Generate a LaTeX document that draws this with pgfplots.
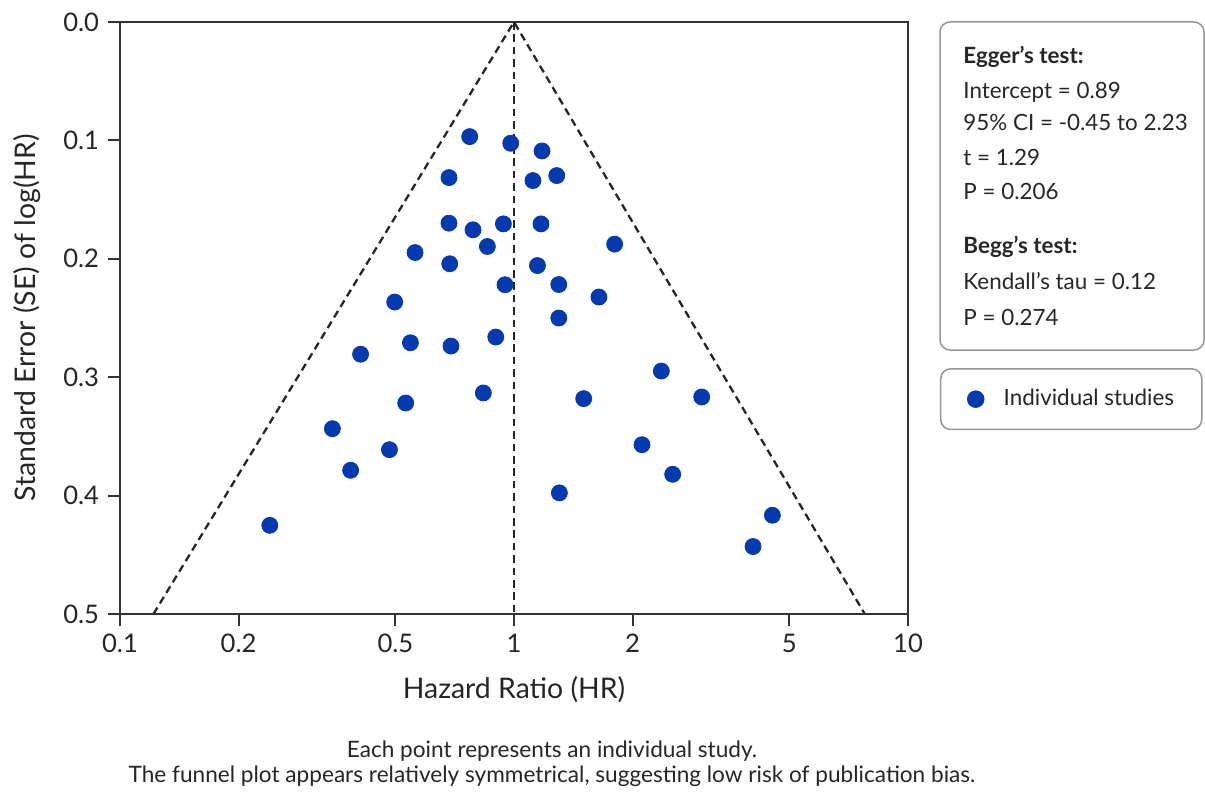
\documentclass[border=0pt]{standalone}
\usepackage{fontspec}
\setmainfont{Lato}
\usepackage{pgfplots}
\pgfplotsset{compat=1.18}
\definecolor{dotblue}{RGB}{4,58,176}
\definecolor{boxgray}{RGB}{150,150,150}
\pgfplotstableread{
hr se
0.772 0.0968
0.981 0.1024
1.178 0.1089
0.684 0.1314
1.117 0.1339
1.284 0.1297
0.684 0.1699
0.787 0.1755
0.940 0.1705
1.171 0.1705
0.856 0.1896
0.561 0.1947
1.801 0.1876
0.687 0.2042
1.147 0.2057
0.949 0.2219
1.299 0.2217
0.498 0.2365
1.643 0.2323
1.299 0.2500
0.408 0.2806
0.546 0.2709
0.692 0.2737
0.899 0.2661
2.366 0.2948
0.836 0.3133
1.503 0.3181
2.995 0.3167
0.531 0.3218
0.346 0.3435
0.483 0.3612
2.113 0.3570
0.385 0.3786
2.528 0.3820
1.304 0.3977
0.240 0.4251
4.527 0.4166
4.043 0.4430
}\studies
\begin{document}
\begin{tikzpicture}[x=1pt,y=1pt]
\path[use as bounding box] (0pt,0pt) rectangle (602.5pt,-396pt);
\begin{axis}[
  at={(60pt,-307pt)}, anchor=south west,
  scale only axis, width=394pt, height=296pt,
  xmode=log, xmin=0.1, xmax=10, ymin=0, ymax=0.5, y dir=reverse,
  xtick={0.1,0.2,0.5,1,2,5,10}, xticklabels={0.1,0.2,0.5,1,2,5,10},
  xminorticks=false,
  ytick={0,0.1,0.2,0.3,0.4,0.5}, yticklabels={0.0,0.1,0.2,0.3,0.4,0.5},
  tick pos=left, tick align=outside, major tick length=6pt,
  axis line style={line width=1pt, black!80},
  every tick/.style={black!80, line width=1pt},
  ticklabel style={font=\fontsize{12.8}{15}\selectfont, text=black!85},
  xticklabel style={yshift=-0.5pt},
  yticklabel style={xshift=-1pt},
  xlabel={Hazard Ratio (HR)},
  ylabel={Standard Error (SE) of log(HR)},
  xlabel style={at={(axis description cs:0.5,-0.128)}, anchor=center, font=\fontsize{14.2}{16}\selectfont, text=black!85},
  ylabel style={at={(axis description cs:-0.118,0.5)}, anchor=center, font=\fontsize{14.2}{16}\selectfont, text=black!85},
  legend style={at={(axis description cs:1.0406,0.4155)}, anchor=north west,
    draw=boxgray, line width=0.75pt, rounded corners=5pt,
    font=\fontsize{11.2}{13}\selectfont, text=black!85,
    inner xsep=5.5pt, inner ysep=8.3pt},
  legend cell align=left,
  legend image code/.code={%
    \path[draw=none, fill=none] (0pt,-4pt) rectangle (24pt,4pt);
    \draw[mark repeat=2,mark phase=2,#1] plot coordinates {(0pt,0pt) (12pt,0pt) (24pt,0pt)};},
]
\addplot[black!85, line width=1.15pt, dash pattern=on 3.8pt off 2.4pt, forget plot] coordinates {(0.1216,0.5) (1,0) (7.77,0.5)};
\addplot[black!85, line width=1.15pt, dash pattern=on 3.8pt off 2.4pt, forget plot] coordinates {(1,0) (1,0.5)};
\addplot[only marks, mark=*, mark size=4pt, color=dotblue] table[x=hr, y=se] {\studies};
\addlegendentry{\makebox[91.5pt][l]{Individual studies}}
\end{axis}
\draw[boxgray, line width=0.75pt, rounded corners=5pt] (470pt,-11pt) rectangle (602pt,-175pt);
\begin{scope}[every node/.style={anchor=base west, inner sep=0pt, font=\fontsize{11.2}{13}\selectfont, text=black!85}]
\node at (481.5pt,-32pt) {\textbf{Egger’s test:}};
\node at (481.5pt,-49.5pt) {Intercept = 0.89};
\node at (481.5pt,-65.5pt) {95\% CI = -0.45 to 2.23};
\node at (481.5pt,-83pt) {t = 1.29};
\node at (481.5pt,-99.5pt) {P = 0.206};
\node at (481.5pt,-126.5pt) {\textbf{Begg’s test:}};
\node at (481.5pt,-144.5pt) {Kendall’s tau = 0.12};
\node at (481.5pt,-162.5pt) {P = 0.274};
\end{scope}
\node[anchor=base, font=\fontsize{11.3}{13}\selectfont, text=black!85] at (276pt,-378.5pt) {Each point represents an individual study.};
\node[anchor=base, font=\fontsize{11.3}{13}\selectfont, text=black!85] at (276pt,-391pt) {The funnel plot appears relatively symmetrical, suggesting low risk of publication bias.};
\end{tikzpicture}
\end{document}
